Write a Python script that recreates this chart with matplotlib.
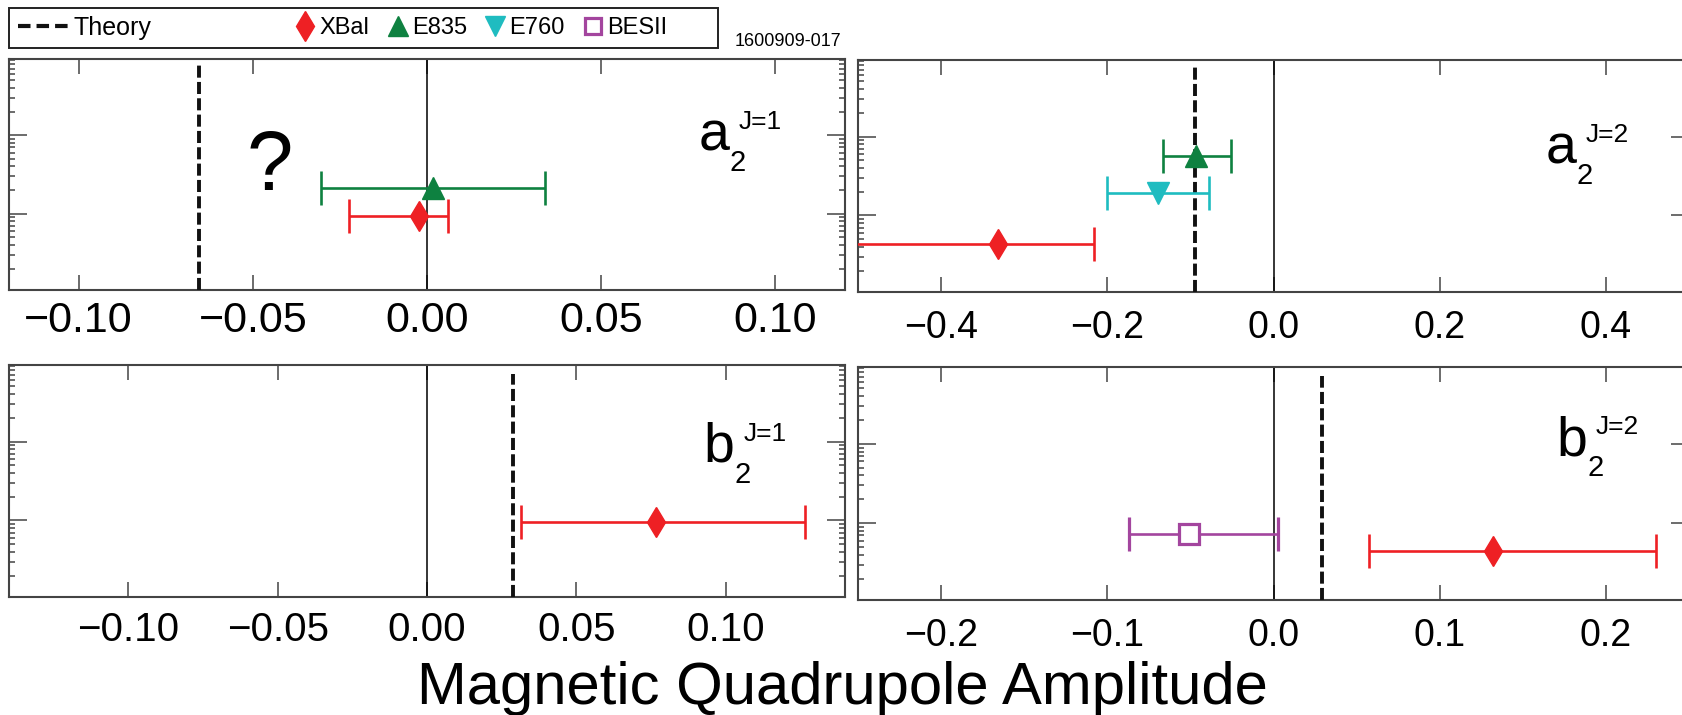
import matplotlib
matplotlib.use("Agg")
import matplotlib.pyplot as plt
from matplotlib.lines import Line2D
from matplotlib.patches import Rectangle
from matplotlib.ticker import FixedLocator, LogLocator, NullFormatter, NullLocator

plt.rcParams['font.family'] = ['Liberation Sans', 'DejaVu Sans']

# ---------------- data ----------------
# x tick values / labels per panel
ticks_j1 = [-0.10, -0.05, 0.00, 0.05, 0.10]
labels_j1 = ['\u22120.10', '\u22120.05', '0.00', '0.05', '0.10']
ticks_a2 = [-0.4, -0.2, 0.0, 0.2, 0.4]
labels_a2 = ['\u22120.4', '\u22120.2', '0.0', '0.2', '0.4']
ticks_b2 = [-0.2, -0.1, 0.0, 0.1, 0.2]
labels_b2 = ['\u22120.2', '\u22120.1', '0.0', '0.1', '0.2']

# theory predictions
theory_a1 = -0.0655
theory_a2 = -0.095
theory_b1 = 0.0287
theory_b2 = 0.029

# measurements: value, lower error, upper error, vertical slot
a1_xbal = [-0.0023, 0.0200, 0.0084, 0.93]
a1_e835 = [0.0016, 0.0320, 0.0323, 2.15]
a2_xbal = [-0.332, 0.250, 0.116, 0.44]
a2_e835 = [-0.093, 0.040, 0.042, 5.6]
a2_e760 = [-0.139, 0.061, 0.061, 1.9]
b1_xbal = [0.0768, 0.0452, 0.0499, 0.95]
b2_besii = [-0.0508, 0.0361, 0.0538, 0.73]
b2_xbal = [0.1323, 0.0751, 0.0981, 0.44]

# ---------------- style ----------------
RED = '#ee2024'
GREEN = '#0e8140'
CYAN = '#1fbcc0'
PURPLE = '#a3459e'
SPINE = '#444444'

W, H = 1682, 715
fig = plt.figure(figsize=(W / 100, H / 100), dpi=100)


def fig_rect(x0, y0, x1, y1):
    return [x0 / W, 1 - y1 / H, (x1 - x0) / W, (y1 - y0) / H]


def style_axes(ax, xlim, ticks, labels, lsize, lpad):
    ax.set_xlim(*xlim)
    ax.set_yscale('log')
    ax.set_ylim(10 ** -0.97, 10 ** 1.97)
    ax.xaxis.set_major_locator(FixedLocator(ticks))
    ax.set_xticklabels(labels)
    ax.xaxis.set_minor_locator(NullLocator())
    ax.yaxis.set_major_locator(LogLocator(base=10))
    ax.yaxis.set_minor_locator(LogLocator(base=10, subs=[2, 3, 4, 5, 6, 7, 8, 9]))
    ax.yaxis.set_major_formatter(NullFormatter())
    ax.yaxis.set_minor_formatter(NullFormatter())
    ax.tick_params(axis='x', which='major', direction='in', length=11, width=1.1,
                   top=True, bottom=True, color=SPINE, labelsize=lsize, pad=lpad)
    ax.tick_params(axis='y', which='major', direction='in', length=13, width=1.1,
                   left=True, right=True, color=SPINE)
    ax.tick_params(axis='y', which='minor', direction='in', length=4, width=1.1,
                   left=True, right=True, color=SPINE)
    for s in ax.spines.values():
        s.set_color(SPINE)
        s.set_linewidth(1.5)


def point(ax, rec, marker, color, ms, hollow=False):
    val, lo, hi, yy = rec
    kw = dict(fmt=marker, color=color, ms=ms, capsize=12, elinewidth=1.9,
              capthick=1.9, zorder=4)
    if hollow:
        kw.update(mfc='white', mec=color, mew=2.3)
    else:
        kw.update(mec=color)
    ax.errorbar([val], [yy], xerr=[[lo], [hi]], **kw)


def theory_line(ax, x, ymax):
    ax.axvline(x, ymin=0, ymax=ymax, color='#111111', lw=2.8,
               linestyle=(0, (3.1, 1.1)), zorder=3)


def panel_label(ax, fx, fy, letter, sup):
    ax.annotate(letter, xy=(fx, fy), xycoords='axes fraction', ha='left',
                va='baseline', fontsize=40)
    ax.annotate('2', xy=(fx, fy), xycoords='axes fraction', xytext=(31, -21),
                textcoords='offset pixels', ha='left', va='baseline', fontsize=21)
    ax.annotate(sup, xy=(fx, fy), xycoords='axes fraction', xytext=(40, 21),
                textcoords='offset pixels', ha='left', va='baseline', fontsize=19)


# ---------- a2 J=1 ----------
ax = fig.add_axes(fig_rect(9, 59, 845, 290))
style_axes(ax, (-0.12, 0.12), ticks_j1, labels_j1, 31, 8)
ax.axvline(0, color='k', lw=1.1, zorder=2)
theory_line(ax, theory_a1, 0.98)
point(ax, a1_e835, '^', GREEN, 16)
point(ax, a1_xbal, 'd', RED, 15)
panel_label(ax, 0.825, 0.606, 'a', 'J=1')
ax.text(0.312, 0.53, '?', transform=ax.transAxes, ha='center', va='center', fontsize=60)

# ---------- a2 J=2 ----------
ax = fig.add_axes(fig_rect(858, 60, 1689, 292))
style_axes(ax, (-0.5, 0.5), ticks_a2, labels_a2, 27, 13)
ax.axvline(0, color='k', lw=1.1, zorder=2)
theory_line(ax, theory_a2, 0.97)
point(ax, a2_e835, '^', GREEN, 16)
point(ax, a2_e760, 'v', CYAN, 16)
point(ax, a2_xbal, 'd', RED, 15)
panel_label(ax, 0.827, 0.556, 'a', 'J=2')

# ---------- b2 J=1 ----------
ax = fig.add_axes(fig_rect(9, 365, 845, 597))
style_axes(ax, (-0.14, 0.14), ticks_j1, labels_j1, 29, 10)
ax.axvline(0, color='k', lw=1.1, zorder=2)
theory_line(ax, theory_b1, 0.96)
point(ax, b1_xbal, 'd', RED, 15)
panel_label(ax, 0.831, 0.582, 'b', 'J=1')

# ---------- b2 J=2 ----------
ax = fig.add_axes(fig_rect(858, 367, 1689, 600))
style_axes(ax, (-0.25, 0.25), ticks_b2, labels_b2, 27, 13)
ax.axvline(0, color='k', lw=1.1, zorder=2)
theory_line(ax, theory_b2, 0.96)
point(ax, b2_besii, 's', PURPLE, 15, hollow=True)
point(ax, b2_xbal, 'd', RED, 15)
panel_label(ax, 0.84, 0.622, 'b', 'J=2')

# ---------- legend ----------
fig.patches.append(Rectangle((9 / W, 1 - 48 / H), (718 - 9) / W, 40 / H,
                             transform=fig.transFigure, fill=False,
                             edgecolor='#222222', lw=1.4))
h_theory = Line2D([], [], color='#111111', lw=3.0, linestyle=(0, (3.0, 1.45)))
fig.legend([h_theory], ['Theory'], loc='center left',
           bbox_to_anchor=(18 / W, 1 - 28 / H), frameon=False, fontsize=18,
           handlelength=2.0, handletextpad=0.2, borderpad=0, borderaxespad=0)
h_x = Line2D([], [], ls='none', marker='d', color=RED, ms=15)
h_e835 = Line2D([], [], ls='none', marker='^', color=GREEN, ms=14)
h_e760 = Line2D([], [], ls='none', marker='v', color=CYAN, ms=14)
h_b = Line2D([], [], ls='none', marker='s', mfc='white', mec=PURPLE, mew=2.3, ms=12)
fig.legend([h_x, h_e835, h_e760, h_b], ['XBal', 'E835', 'E760', 'BESII'],
           loc='center left', bbox_to_anchor=(296 / W, 1 - 28 / H), frameon=False,
           fontsize=17, ncol=4, handlelength=0.8, handletextpad=0.2,
           columnspacing=0.8, borderpad=0, borderaxespad=0)

fig.text(841 / W, 1 - 41 / H, '1600909-017', ha='right', va='center', fontsize=13)

fig.text(842 / W, 1 - 704 / H, 'Magnetic Quadrupole Amplitude', ha='center',
         va='baseline', fontsize=43)

fig.savefig('out.png', dpi=100)
